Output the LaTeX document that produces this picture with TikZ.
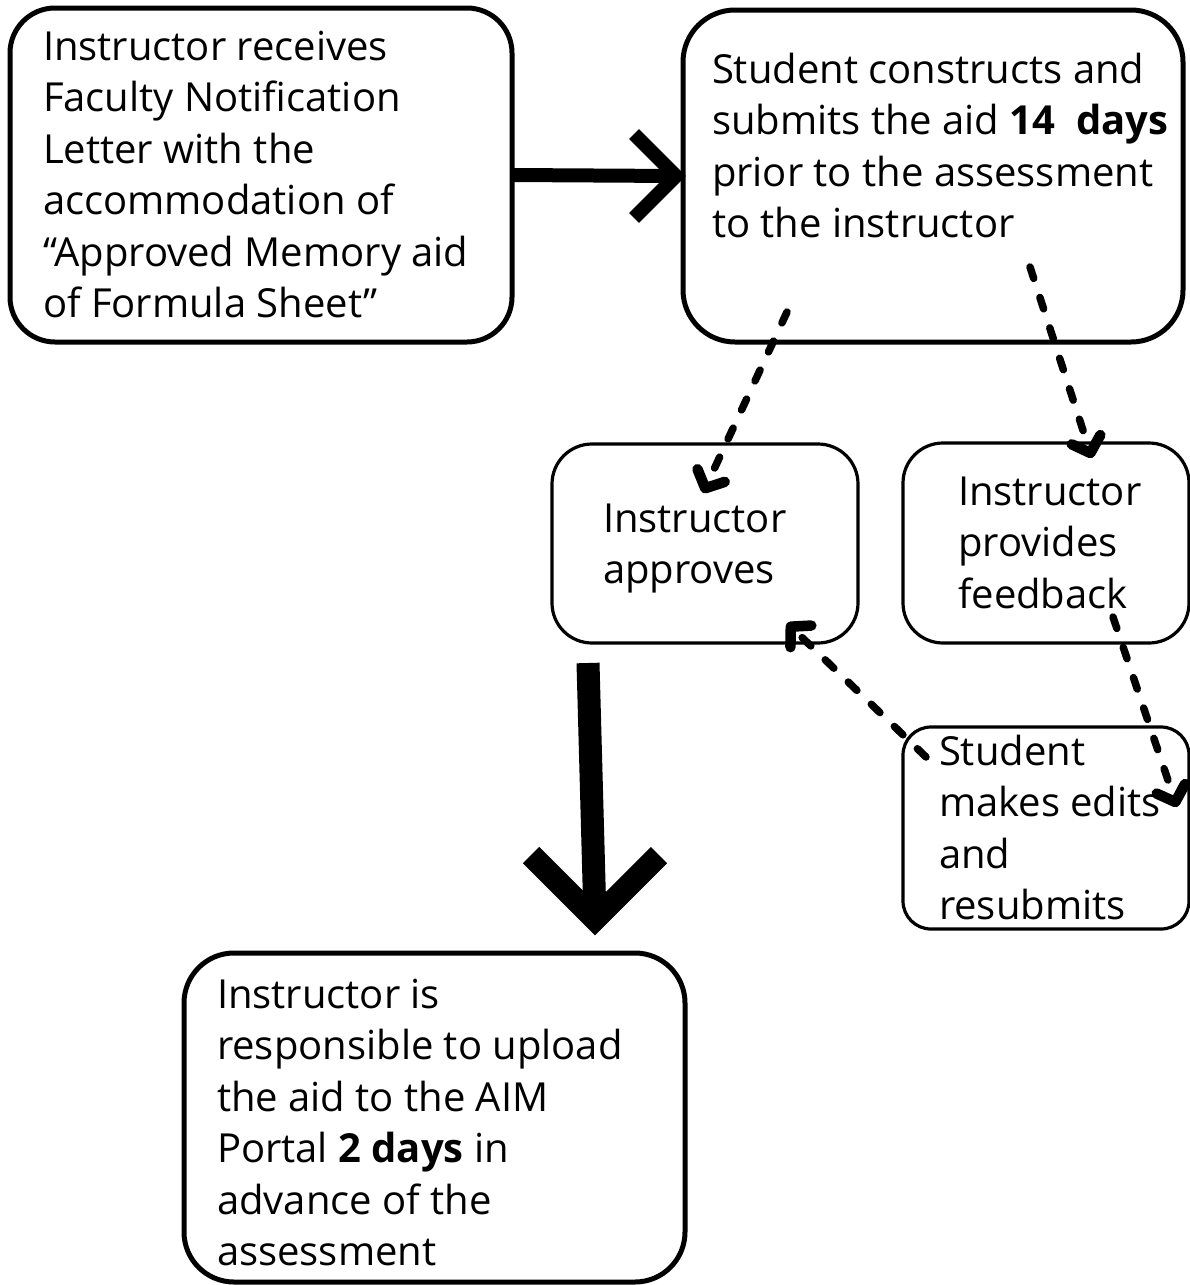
\documentclass[tikz,border=0pt]{standalone}
\usepackage{fontspec}
\setmainfont{Open Sans}
\usetikzlibrary{arrows.meta,calc}
\setlength\parindent{0pt}
\newcommand\topstrut{\rule{0pt}{32pt}}
\begin{document}
\begin{tikzpicture}[x=1pt,y=-1pt,
  thickbox/.style={draw=black, line width=5pt, inner sep=0pt, outer sep=0pt},
  thinbox/.style={draw=black, line width=3.2pt, inner sep=0pt, outer sep=0pt},
  txt/.style={anchor=north west, inner sep=0pt, outer sep=0pt, align=left,
              font={\fontsize{40}{51.5}\selectfont}},
  bigline/.style={draw=black, line width=#1, line cap=butt, line join=miter},
  dasharrow/.style={draw=black, line width=7.5pt, line cap=round,
              dash pattern=on 12pt off 20pt,
              -{Straight Barb[length=14pt,width=30pt,line width=0pt 1.4,round]}},
]
\useasboundingbox (0,0) rectangle (1190,1285);
\fill[white] (0,0) rectangle (1190,1285);
\clip (0,0) rectangle (1190,1285);

% boxes
\node[thickbox, rounded corners=45pt, minimum width=502pt, minimum height=334pt] (A) at (261,175) {};
\node[thickbox, rounded corners=52pt, minimum width=500pt, minimum height=332pt] (B) at (933,176) {};
\node[thinbox, rounded corners=40pt, minimum width=306pt, minimum height=199pt] (C) at (705,543.5) {};
\node[thinbox, rounded corners=40pt, minimum width=286pt, minimum height=200pt] (D) at (1046,543) {};
\node[thinbox, rounded corners=28pt, minimum width=286pt, minimum height=202pt] (E) at (1046,828) {};
\node[thickbox, rounded corners=50pt, minimum width=501pt, minimum height=329pt] (F) at (434.5,1117.5) {};

% texts (anchor = first baseline - 32)
\node[txt] (tA) at (43,28) {\topstrut Instructor receives\\Faculty Notification\\Letter with the\\accommodation of\\“Approved Memory aid\\of Formula Sheet”};
\node[txt] (tB) at (712,51) {\topstrut Student constructs and\\submits the aid \textbf{14\ \ days}\\prior to the assessment\\to the instructor};
\node[txt] (tC) at (603,500) {\topstrut Instructor\\approves};
\node[txt] (tD) at (958,473) {\topstrut Instructor\\provides\\feedback};
\node[txt] (tE) at (939,733) {\topstrut Student\\makes edits\\and\\resubmits};
\node[txt] (tF) at (217,976) {\topstrut Instructor is\\responsible to upload\\the aid to the AIM\\Portal \textbf{2 days} in\\advance of the\\assessment};

% thick arrow A -> B
\draw[bigline=14pt] (A.east) -- ($(B.west)+(-7,0)$);
\draw[bigline=14pt] ($(B.west)+(-49,-42)$) -- ($(B.west)+(-7,0)$) -- ($(B.west)+(-49,42)$);

% thick arrow down to F
\coordinate (s2) at (588,663);
\coordinate (t2) at (595,919);
\draw[bigline=23pt] (s2) -- (t2);
\draw[bigline=23pt] ($(t2)+(-64,-64)$) -- (t2) -- ($(t2)+(64,-64)$);

% dashed arrows
\coordinate (d1s) at (787,312);  \coordinate (d1e) at (703,493);
\coordinate (d2s) at (1030,267); \coordinate (d2e) at (1092,458);
\coordinate (d3s) at (1113,617); \coordinate (d3e) at (1177,807);
\coordinate (d4s) at (926,757);  \coordinate (d4e) at (787,623);
\draw[dasharrow] (d1s) -- (d1e);
\draw[dasharrow] (d2s) -- (d2e);
\draw[dasharrow] (d3s) -- (d3e);
\draw[dasharrow] (d4s) -- (d4e);
\end{tikzpicture}
\end{document}
